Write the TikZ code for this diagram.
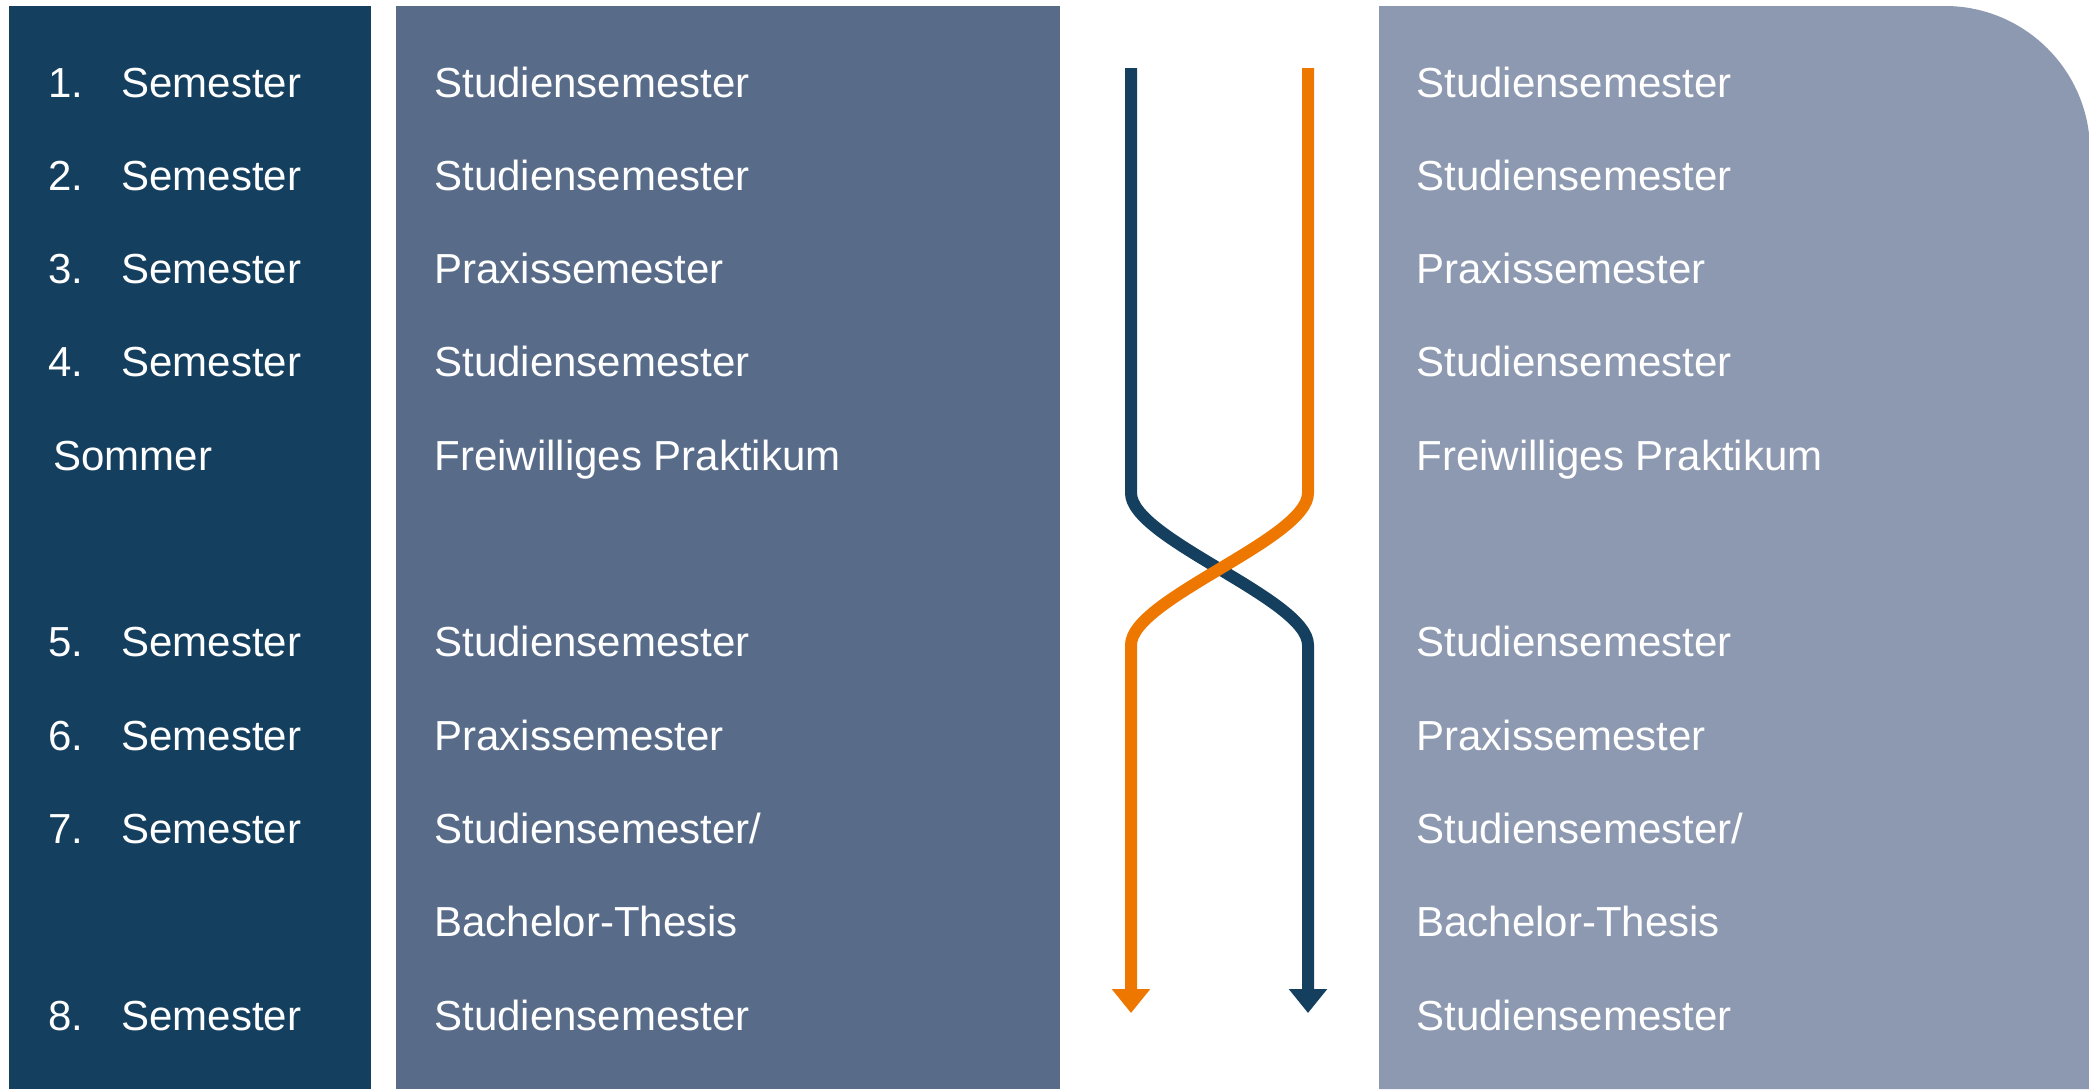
\documentclass[tikz,border=0pt]{standalone}
\usepackage{fontspec}
\setmainfont{Liberation Sans}
\usetikzlibrary{arrows.meta}
\definecolor{darkblue}{HTML}{143F5F}
\definecolor{midblue}{HTML}{586C8A}
\definecolor{lightblue}{HTML}{8D99B0}
\definecolor{orangec}{HTML}{EE7700}
\tikzset{
  lbl/.style={anchor=base west, inner sep=0pt, text=white, font=\fontsize{21}{25}\selectfont},
  flow/.style={line width=6pt, -{Triangle[length=12pt,width=18.5pt]}}
}
\begin{document}
\begin{tikzpicture}[x=0.5pt,y=-0.5pt]
\useasboundingbox (0,0) rectangle (2089,1089);
% columns
\fill[darkblue] (9,6) rectangle (371,1089);
\fill[midblue] (396,6) rectangle (1060,1089);
\fill[lightblue] (1379,1089) -- (1379,6) -- (1945,6) .. controls (2025,6) and (2090,71) .. (2090,151) -- (2090,1089) -- cycle;
% rows
\foreach \i/\num/\mid in {0/1./Studiensemester,1/2./Studiensemester,2/3./Praxissemester,3/4./Studiensemester,6/5./Studiensemester,7/6./Praxissemester,8/7./{Studiensemester/},10/8./Studiensemester}{
  \node[lbl] (n\i) at (48,97+\i*93.3) {\num};
  \node[lbl] (s\i) at (121,97+\i*93.3) {Semester};
  \node[lbl] (m\i) at (434,97+\i*93.3) {\mid};
  \node[lbl] (r\i) at (1416,97+\i*93.3) {\mid};
}
\node[lbl] (som) at (53,97+4*93.3) {Sommer};
\node[lbl] (m4) at (434,97+4*93.3) {Freiwilliges Praktikum};
\node[lbl] (r4) at (1416,97+4*93.3) {Freiwilliges Praktikum};
\node[lbl] (m9) at (434,97+9*93.3) {Bachelor-Thesis};
\node[lbl] (r9) at (1416,97+9*93.3) {Bachelor-Thesis};
% arrows
\coordinate (bs) at (1131,68);
\coordinate (b1) at (1131,493);
\coordinate (b2) at (1308,645);
\coordinate (be) at (1308,1013);
\coordinate (os) at (1308,68);
\coordinate (o1) at (1308,493);
\coordinate (o2) at (1131,645);
\coordinate (oe) at (1131,1013);
\draw[flow, darkblue] (bs) -- (b1) .. controls (1131,539) and (1308,599) .. (b2) -- (be);
\draw[flow, orangec] (os) -- (o1) .. controls (1308,539) and (1131,599) .. (o2) -- (oe);
\end{tikzpicture}
\end{document}
